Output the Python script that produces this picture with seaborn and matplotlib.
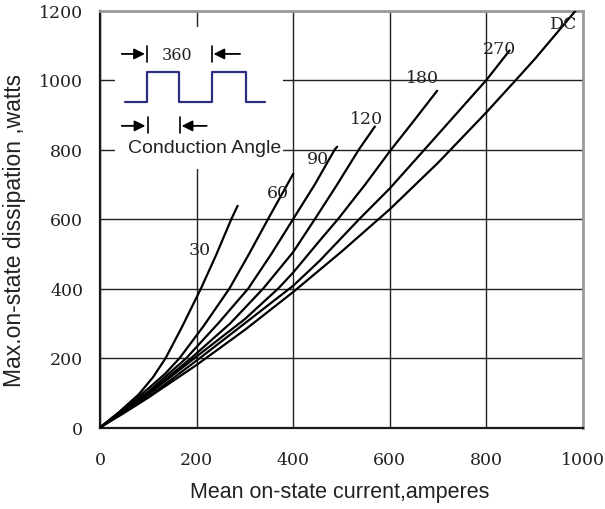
import numpy as np
import pandas as pd
import matplotlib
matplotlib.use("Agg")
import matplotlib.pyplot as plt
import seaborn as sns
from matplotlib.patches import Rectangle
from matplotlib.transforms import Bbox

# ---- data ----
angles = ["30", "60", "90", "120", "180", "270", "DC"]

x_30 = [0, 40, 80, 110, 136, 170, 209, 240, 272, 285]
y_30 = [0, 45, 95, 145, 200, 290, 400, 495, 600, 638]

x_60 = [0, 50, 100, 135, 165, 215, 268, 308, 348, 400]
y_60 = [0, 55, 112, 155, 200, 293, 400, 498, 600, 730]

x_90 = [0, 50, 100, 179, 245, 307, 355, 400, 445, 486, 491]
y_90 = [0, 52, 103, 200, 300, 400, 500, 600, 700, 800, 808]

x_120 = [0, 50, 100, 189, 270, 338, 400, 445, 490, 536, 569]
y_120 = [0, 50, 98, 200, 300, 400, 505, 600, 697, 800, 866]

x_180 = [0, 50, 100, 196, 300, 369, 400, 455, 493, 550, 600, 650, 698]
y_180 = [0, 48, 95, 200, 312, 400, 446, 538, 600, 701, 795, 883, 969]

x_270 = [0, 50, 100, 207, 300, 400, 455, 537, 600, 672, 800, 848]
y_270 = [0, 45, 88, 200, 300, 408, 480, 600, 688, 800, 1000, 1085]

x_dc = [0, 50, 100, 200, 300, 400, 500, 600, 700, 800, 861, 900, 985]
y_dc = [0, 42, 86, 180, 281, 390, 506, 628, 762, 907, 1000, 1060, 1200]

label_x = [207, 368, 451, 552, 667, 826, 959]
label_y = [513, 677, 775, 890, 1006, 1092, 1162]

x_ticks = [0, 200, 400, 600, 800, 1000]
y_ticks = [0, 200, 400, 600, 800, 1000, 1200]

xs = [x_30, x_60, x_90, x_120, x_180, x_270, x_dc]
ys = [y_30, y_60, y_90, y_120, y_180, y_270, y_dc]

df = pd.concat(
    [pd.DataFrame({"current": x, "power": y, "angle": a}) for a, x, y in zip(angles, xs, ys)],
    ignore_index=True,
)

# ---- figure ----
sns.set_theme(style="white")
plt.rcParams["font.family"] = ["Liberation Sans", "DejaVu Sans"]

fig = plt.figure(figsize=(6.05, 5.10), dpi=100)
ax = fig.add_axes([100 / 605, 1 - 428.5 / 510, 483 / 605, 417 / 510])

sns.lineplot(data=df, x="current", y="power", units="angle", estimator=None,
             sort=False, color="black", lw=1.6, ax=ax, zorder=3)

ax.set_xlim(0, 1000)
ax.set_ylim(0, 1200)
ax.set_xticks(x_ticks)
ax.set_yticks(y_ticks)
ax.set_xticklabels([str(v) for v in x_ticks], family="DejaVu Serif", fontsize=12.5, color="#222222")
ax.set_yticklabels([str(v) for v in y_ticks], family="DejaVu Serif", fontsize=12.5, color="#222222")
ax.tick_params(axis="x", length=0, pad=17)
ax.tick_params(axis="y", length=0, pad=12)

ax.grid(True, color="#222222", lw=1.0)
ax.set_axisbelow(True)

for s in ["left", "bottom"]:
    ax.spines[s].set_color("#1a1a1a")
    ax.spines[s].set_linewidth(1.6)
for s in ["top", "right"]:
    ax.spines[s].set_color("#9a9a9a")
    ax.spines[s].set_linewidth(2.0)

ax.set_xlabel("Mean on-state current,amperes", fontsize=15.5, color="#222222")
ax.set_ylabel("Max.on-state dissipation ,watts", fontsize=16.5, color="#222222")
ax.xaxis.set_label_coords(0.497, -0.128)
ax.yaxis.set_label_coords(-0.153, 0.474)
ax.yaxis.label.set_clip_box(Bbox.from_extents(0, 0, 605, 510 - 77))
ax.yaxis.label.set_clip_on(True)

# curve labels
for t, lx, ly in zip(angles, label_x, label_y):
    ax.text(lx, ly, t, family="DejaVu Serif", fontsize=12.5, color="#222222",
            ha="center", va="center", zorder=4)

# inset box covering the grid
ax.add_patch(Rectangle((31, 744), 348, 408, facecolor="white", edgecolor="none", zorder=1))

# pulse waveform
px = [52, 96.6, 96.6, 163.4, 163.4, 231, 231, 301.3, 301.3, 341.3]
py = [936, 936, 1024, 1024, 936, 936, 1024, 1024, 936, 936]
ax.plot(px, py, color="#2b2f80", lw=1.6, zorder=4)

arrow_kw = dict(arrowstyle="-|>", color="black", lw=1.3, mutation_scale=16,
                shrinkA=0, shrinkB=0)
# top arrows (360)
ax.annotate("", xy=(93, 1075), xytext=(45, 1075), arrowprops=arrow_kw, zorder=4)
ax.plot([97, 97], [1051, 1097], color="black", lw=1.2, zorder=4)
ax.annotate("", xy=(235, 1075), xytext=(290, 1075), arrowprops=arrow_kw, zorder=4)
ax.plot([231, 231], [1051, 1097], color="black", lw=1.2, zorder=4)
ax.text(160, 1073, "360", family="DejaVu Serif", fontsize=11.5, color="#222222",
        ha="center", va="center", zorder=4)
# bottom arrows
ax.annotate("", xy=(94, 868), xytext=(45, 868), arrowprops=arrow_kw, zorder=4)
ax.plot([98.6, 98.6], [848, 893], color="black", lw=1.2, zorder=4)
ax.annotate("", xy=(169, 868), xytext=(221, 868), arrowprops=arrow_kw, zorder=4)
ax.plot([165.5, 165.5], [848, 893], color="black", lw=1.2, zorder=4)
ax.text(58, 805, "Conduction Angle", fontsize=14, color="#222222",
        ha="left", va="center", zorder=4)

fig.savefig("out.png", dpi=100, facecolor="white")
